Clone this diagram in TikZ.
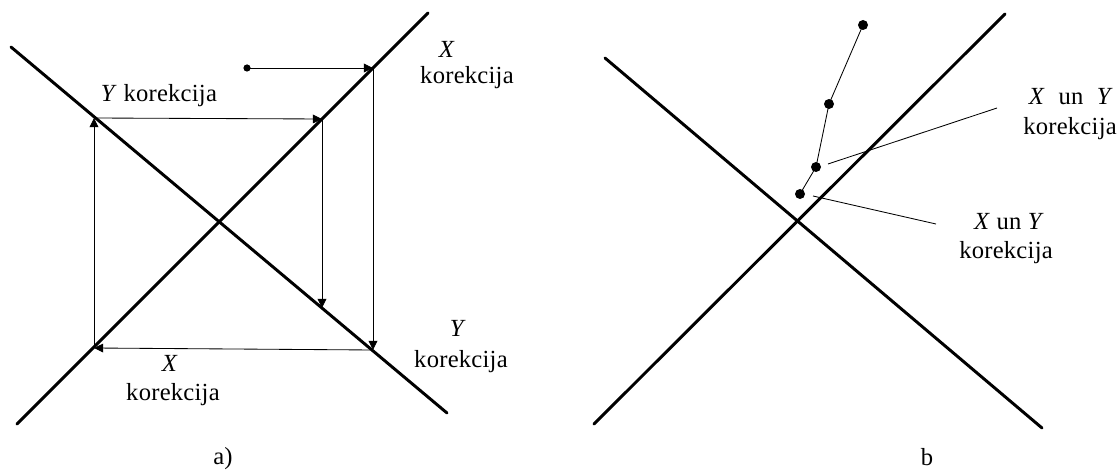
\documentclass[tikz,border=0pt]{standalone}
\usepackage{fontspec}
\setmainfont[LetterSpace=1]{Liberation Serif}
\usepackage{tikz}
\usetikzlibrary{arrows.meta,positioning}

\begin{document}
\begin{tikzpicture}[x=0.025cm, y=-0.025cm,
    axis/.style={line width=2.1pt, line cap=round},
    corr/.style={line width=0.6pt, -{Triangle[length=2.3mm, width=2.2mm]}},
    lead/.style={line width=0.6pt},
    lbl/.style={inner sep=0pt, anchor=base, font=\fontsize{17.5pt}{20pt}\selectfont},
    pt/.style={circle, fill, inner sep=0pt, minimum size=#1},
    pt/.default=2.5mm
]
    \useasboundingbox (0,0) rectangle (1118,472);

    % a) correction steps
    \coordinate (aDesc1) at (11,47);
    \coordinate (aDesc2) at (447,413);
    \coordinate (aAsc1) at (17,424);
    \coordinate (aAsc2) at (428,13);
    \draw[axis] (aDesc1) -- (aDesc2);
    \draw[axis] (aAsc1) -- (aAsc2);

    \node[pt=1.8mm] (start) at (247,68) {};
    \coordinate (cA) at (373,68);
    \coordinate (cB) at (373,350);
    \coordinate (cC) at (94,348);
    \coordinate (cD) at (94,118);
    \coordinate (cE) at (322,119);
    \coordinate (cF) at (322,308);
    \draw[corr] (start.center) -- (cA);
    \draw[corr] (cA) -- (cB);
    \draw[corr] (cB) -- (cC);
    \draw[corr] (cC) -- (cD);
    \draw[corr] (cD) -- (cE);
    \draw[corr] (cE) -- (cF);

    \node[lbl] (yTop) at (159,102) {\textit{Y} korekcija};
    \node[lbl] (xRight) at (447,58) {\textit{X}};
    \node[lbl] (xRightK) at (467,84) {korekcija};
    \node[lbl] (yRight) at (458,336) {\textit{Y}};
    \node[lbl] (yRightK) at (461,367) {korekcija};
    \node[lbl] (xBottom) at (170,371) {\textit{X}};
    \node[lbl] (xBottomK) at (173,400) {korekcija};
    \node[lbl] (capA) at (223,464) {a)};

    % b) combined correction
    \coordinate (bDesc1) at (605,58);
    \coordinate (bDesc2) at (1042,428);
    \coordinate (bAsc1) at (594,424);
    \coordinate (bAsc2) at (1005,14);
    \draw[axis] (bDesc1) -- (bDesc2);
    \draw[axis] (bAsc1) -- (bAsc2);

    \node[pt] (p1) at (863,25) {};
    \node[pt] (p2) at (829,104) {};
    \node[pt] (p3) at (816,167) {};
    \node[pt] (p4) at (800,194) {};
    \draw[lead] (p1.center) -- (p2.center) -- (p3.center) -- (p4.center);

    \coordinate (lead1a) at (828,164);
    \coordinate (lead1b) at (997,108);
    \coordinate (lead2a) at (813,196);
    \coordinate (lead2b) at (936,224);
    \draw[lead] (lead1a) -- (lead1b);
    \draw[lead] (lead2a) -- (lead2b);

    \node[lbl] (xyUp) at (1071,105) {\textit{X}\hspace{0.55em}un\hspace{0.55em}\textit{Y}};
    \node[lbl] (xyUpK) at (1070,135) {korekcija};
    \node[lbl] (xyLow) at (1009,230) {\textit{X} un \textit{Y}};
    \node[lbl] (xyLowK) at (1006,258) {korekcija};
    \node[lbl] (capB) at (927,465) {b};
\end{tikzpicture}
\end{document}
